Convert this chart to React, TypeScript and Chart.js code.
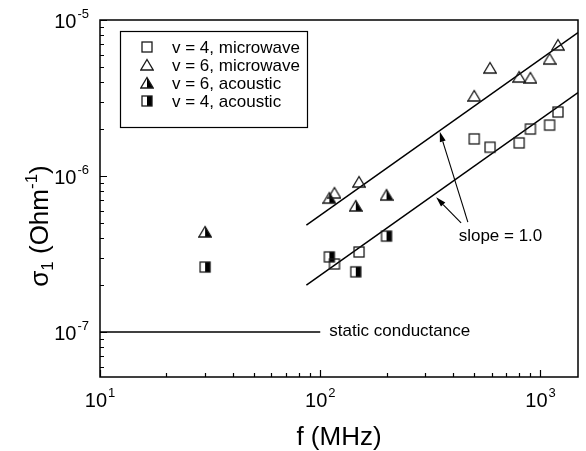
import { useEffect, useRef } from "react";
import { Chart, registerables } from "chart.js";

Chart.register(...registerables);

const FONT = "'Liberation Sans', Arial, Helvetica, sans-serif";

// Axis ranges (log-log)
const X_MIN = 10;
const X_MAX = 1480;
const Y_MIN = 5.15e-8;
const Y_MAX = 1e-5;

const seriesLabels = ["v = 4, microwave", "v = 6, microwave", "v = 6, acoustic", "v = 4, acoustic"];

// v = 4, microwave
const mw4Freq = [116, 150, 500, 590, 800, 900, 1100, 1200];
const mw4Sigma = [2.73e-7, 3.26e-7, 1.73e-6, 1.53e-6, 1.63e-6, 2.0e-6, 2.12e-6, 2.57e-6];
// v = 6, microwave
const mw6Freq = [116, 150, 500, 590, 800, 900, 1100, 1200];
const mw6Sigma = [7.78e-7, 9.15e-7, 3.26e-6, 4.92e-6, 4.31e-6, 4.25e-6, 5.62e-6, 6.91e-6];
// v = 6, acoustic
const ac6Freq = [30, 110, 145, 200];
const ac6Sigma = [4.38e-7, 7.22e-7, 6.43e-7, 7.55e-7];
// v = 4, acoustic
const ac4Freq = [30, 110, 145, 200];
const ac4Sigma = [2.61e-7, 3.03e-7, 2.43e-7, 4.12e-7];

// Guide lines with slope 1 (sigma proportional to f)
const slopeFreq = [86.5, 1480];
const upperSlopeSigma = [4.85e-7, 8.3e-6];
const lowerSlopeSigma = [2.0e-7, 3.42e-6];

// Static conductance level
const staticFreq = [10, 100];
const staticSigma = [1e-7, 1e-7];

// Arrows pointing from the "slope = 1.0" note to each guide line: [tail f, tail sigma, head f, head sigma]
const arrowUpper = [468, 5.07e-7, 349, 1.92e-6];
const arrowLower = [436, 5.0e-7, 336, 7.3e-7];
const slopeNote = { text: "slope = 1.0", f: 425, sigma: 4.1e-7 };
const staticNote = { text: "static conductance", f: 110, sigma: 1e-7 };

const xDecades = [1, 2, 3];
const yDecades = [-8, -7, -6, -5];
const xLabelExps = [1, 2, 3];
const yLabelExps = [-7, -6, -5];

type Shape = "square" | "triangle";

function makeMarker(shape: Shape, half: boolean): HTMLCanvasElement {
  const c = document.createElement("canvas");
  c.width = 14;
  c.height = 14;
  const ctx = c.getContext("2d")!;
  ctx.strokeStyle = "#1a1a1a";
  ctx.fillStyle = "#000";
  ctx.lineWidth = 1.3;
  ctx.lineJoin = "miter";
  if (shape === "square") {
    if (half) ctx.fillRect(7, 2, 5, 10);
    ctx.strokeRect(2, 2, 10, 10);
  } else {
    if (half) {
      ctx.beginPath();
      ctx.moveTo(7, 1.5);
      ctx.lineTo(13.2, 12);
      ctx.lineTo(7, 12);
      ctx.closePath();
      ctx.fill();
    }
    ctx.beginPath();
    ctx.moveTo(7, 1.5);
    ctx.lineTo(13.2, 12);
    ctx.lineTo(0.8, 12);
    ctx.closePath();
    ctx.stroke();
  }
  return c;
}

const toPoints = (xs: number[], ys: number[]) => xs.map((x, i) => ({ x, y: ys[i] }));

function drawPower(
  ctx: CanvasRenderingContext2D,
  exp: string,
  x: number,
  baseline: number,
  align: "center" | "right",
  mainSize: number,
  supSize: number
) {
  ctx.font = `${mainSize}px ${FONT}`;
  const w1 = ctx.measureText("10").width;
  ctx.font = `${supSize}px ${FONT}`;
  const w2 = ctx.measureText(exp).width;
  const total = w1 + w2 + 1;
  const start = align === "center" ? x - total / 2 : x - total;
  ctx.textAlign = "left";
  ctx.textBaseline = "alphabetic";
  ctx.font = `${mainSize}px ${FONT}`;
  ctx.fillText("10", start, baseline);
  ctx.font = `${supSize}px ${FONT}`;
  ctx.fillText(exp, start + w1 + 1, baseline - mainSize * 0.5);
}

function drawArrow(ctx: CanvasRenderingContext2D, x1: number, y1: number, x2: number, y2: number) {
  const ang = Math.atan2(y2 - y1, x2 - x1);
  const len = 10;
  const hw = 3;
  const bx = x2 - len * Math.cos(ang);
  const by = y2 - len * Math.sin(ang);
  ctx.beginPath();
  ctx.moveTo(x1, y1);
  ctx.lineTo(bx, by);
  ctx.stroke();
  ctx.beginPath();
  ctx.moveTo(x2, y2);
  ctx.lineTo(bx + hw * Math.sin(ang), by - hw * Math.cos(ang));
  ctx.lineTo(bx - hw * Math.sin(ang), by + hw * Math.cos(ang));
  ctx.closePath();
  ctx.fill();
}

export default function App() {
  const ref = useRef<HTMLCanvasElement | null>(null);

  useEffect(() => {
    if (!ref.current) return;
    const markers = [
      makeMarker("square", false),
      makeMarker("triangle", false),
      makeMarker("triangle", true),
      makeMarker("square", true),
    ];

    const decorations = {
      id: "decorations",
      afterDatasetsDraw(chart: any) {
        const { ctx, chartArea: a, scales } = chart;
        const xs = scales.x;
        const ys = scales.y;
        ctx.save();
        ctx.strokeStyle = "#000";
        ctx.fillStyle = "#000";

        // frame
        ctx.lineWidth = 1.5;
        ctx.strokeRect(a.left, a.top, a.right - a.left, a.bottom - a.top);

        // ticks (inward, bottom and left)
        ctx.lineWidth = 1.2;
        ctx.beginPath();
        for (const d of xDecades) {
          for (let m = 1; m <= 9; m++) {
            const v = m * Math.pow(10, d);
            if (v < X_MIN || v > X_MAX) continue;
            const px = Math.round(xs.getPixelForValue(v)) + 0.5;
            const len = m === 1 ? 7 : 4;
            ctx.moveTo(px, a.bottom);
            ctx.lineTo(px, a.bottom - len);
          }
        }
        for (const d of yDecades) {
          for (let m = 1; m <= 9; m++) {
            const v = m * Math.pow(10, d);
            if (v < Y_MIN * 0.999 || v > Y_MAX * 1.001) continue;
            const py = Math.round(ys.getPixelForValue(v)) + 0.5;
            const len = m === 1 ? 7 : 4;
            ctx.moveTo(a.left, py);
            ctx.lineTo(a.left + len, py);
          }
        }
        ctx.stroke();

        // tick labels
        for (const e of xLabelExps) {
          const px = xs.getPixelForValue(Math.pow(10, e));
          drawPower(ctx, String(e), px, a.bottom + 30, "center", 20, 13);
        }
        for (const e of yLabelExps) {
          const py = ys.getPixelForValue(Math.pow(10, e));
          drawPower(ctx, String(e), a.left - 11, py + 8, "right", 20, 13);
        }

        // x axis title
        ctx.font = `26px ${FONT}`;
        ctx.textAlign = "center";
        ctx.textBaseline = "alphabetic";
        ctx.fillText("f (MHz)", (a.left + a.right) / 2, 445);

        // y axis title (rotated)
        ctx.save();
        ctx.translate(48, 226);
        ctx.rotate(-Math.PI / 2);
        const parts: [string, number, number][] = [
          ["σ", 26, 0],
          ["1", 17, 5],
          [" (Ohm", 26, 0],
          ["-1", 17, -11],
          [")", 26, 0],
        ];
        let total = 0;
        for (const [t, s] of parts) {
          ctx.font = `${s}px ${FONT}`;
          total += ctx.measureText(t).width;
        }
        let cx = -total / 2;
        ctx.textAlign = "left";
        for (const [t, s, dy] of parts) {
          ctx.font = `${s}px ${FONT}`;
          ctx.fillText(t, cx, dy);
          cx += ctx.measureText(t).width;
        }
        ctx.restore();

        // legend box
        ctx.lineWidth = 1.2;
        ctx.strokeRect(120.5, 31.5, 187, 96);
        ctx.font = `17px ${FONT}`;
        ctx.textAlign = "left";
        ctx.textBaseline = "middle";
        seriesLabels.forEach((label, i) => {
          const y = 47 + i * 18;
          ctx.drawImage(markers[i], 140, y - 7);
          ctx.fillText(label, 172, y + 1);
        });

        // notes
        ctx.fillText(
          slopeNote.text,
          xs.getPixelForValue(slopeNote.f),
          ys.getPixelForValue(slopeNote.sigma)
        );
        ctx.fillText(
          staticNote.text,
          xs.getPixelForValue(staticNote.f),
          ys.getPixelForValue(staticNote.sigma) - 1
        );

        // arrows
        ctx.lineWidth = 1.1;
        for (const ar of [arrowUpper, arrowLower]) {
          drawArrow(
            ctx,
            xs.getPixelForValue(ar[0]),
            ys.getPixelForValue(ar[1]),
            xs.getPixelForValue(ar[2]),
            ys.getPixelForValue(ar[3])
          );
        }
        ctx.restore();
      },
    };

    const lineStyle = {
      showLine: true,
      borderColor: "#000",
      borderWidth: 1.5,
      pointRadius: 0,
      fill: false,
    };

    const chart = new Chart(ref.current, {
      type: "scatter",
      data: {
        datasets: [
          { label: seriesLabels[0], data: toPoints(mw4Freq, mw4Sigma), pointStyle: markers[0] as any, pointRadius: 7 },
          { label: seriesLabels[1], data: toPoints(mw6Freq, mw6Sigma), pointStyle: markers[1] as any, pointRadius: 7 },
          { label: seriesLabels[2], data: toPoints(ac6Freq, ac6Sigma), pointStyle: markers[2] as any, pointRadius: 7 },
          { label: seriesLabels[3], data: toPoints(ac4Freq, ac4Sigma), pointStyle: markers[3] as any, pointRadius: 7 },
          { label: "slope upper", data: toPoints(slopeFreq, upperSlopeSigma), ...lineStyle },
          { label: "slope lower", data: toPoints(slopeFreq, lowerSlopeSigma), ...lineStyle },
          { label: "static conductance", data: toPoints(staticFreq, staticSigma), ...lineStyle },
        ] as any,
      },
      options: {
        responsive: false,
        devicePixelRatio: 1,
        animation: false,
        events: [],
        layout: { padding: { left: 100, top: 20, right: 1, bottom: 74 } },
        plugins: { legend: { display: false }, tooltip: { enabled: false } },
        scales: {
          x: { type: "logarithmic", min: X_MIN, max: X_MAX, display: false },
          y: { type: "logarithmic", min: Y_MIN, max: Y_MAX, display: false },
        },
      },
      plugins: [decorations],
    });
    return () => chart.destroy();
  }, []);

  return (
    <div style={{ position: "fixed", left: 0, top: 0, width: 586, height: 451, background: "#fff" }}>
      <canvas ref={ref} width={586} height={451} style={{ display: "block" }} />
    </div>
  );
}
